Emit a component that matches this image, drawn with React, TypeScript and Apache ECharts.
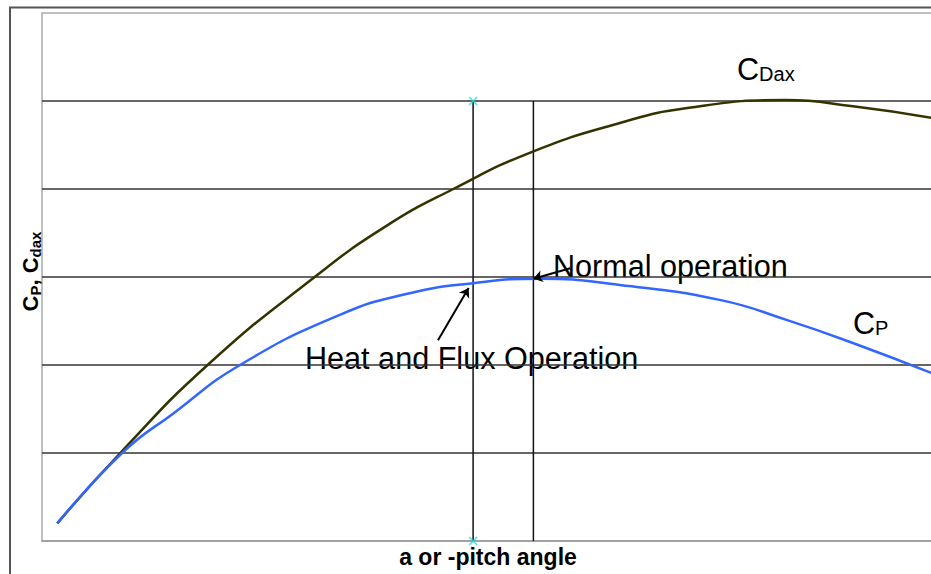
import React, { useEffect, useRef } from "react";
import * as echarts from "echarts";

// C_Dax curve (x = angle units, y = coefficient units)
const cdaxX = [1.7, 8.7, 18.4, 30.3, 38.1, 45.7, 54.4, 64.2, 71.7, 82.6, 90.1, 98.8];
const cdaxY = [0.2, 1.0, 2.0, 3.0, 3.57, 4.0, 4.42, 4.75, 4.92, 5.01, 4.94, 4.81];

// C_P curve
const cpX = [1.7, 8.9, 14.6, 22.0, 33.1, 40.6, 47.9, 55.3, 64.2, 75.3, 82.8, 90.1, 98.8];
const cpY = [0.2, 1.0, 1.45, 2.0, 2.57, 2.81, 2.93, 2.98, 2.91, 2.74, 2.51, 2.25, 1.91];

// operating points
const heatX = 47.9;
const normalX = 54.6;
const markTop = 5;

// annotation arrows [fromX, fromY, toX, toY]
const normalArrow = [58.7, 3.1, 54.6, 2.98];
const heatArrow = [44.0, 2.28, 47.4, 2.875];

const FONT = "'Liberation Sans', Arial, Helvetica, sans-serif";

export default function App() {
  const ref = useRef<HTMLDivElement>(null);
  useEffect(() => {
    const chart = echarts.init(ref.current!, null, { renderer: "svg" });
    const toPairs = (xs: number[], ys: number[]) => xs.map((x, i) => [x, ys[i]]);
    const option = {
      animation: false,
      backgroundColor: "#ffffff",
      grid: {
        left: 42,
        top: 13,
        right: 0,
        bottom: 33,
        show: true,
        borderColor: "#aaaaaa",
        borderWidth: 1.5,
        backgroundColor: "transparent",
      },
      xAxis: {
        type: "value",
        min: 0,
        max: 100,
        axisLine: { show: true, onZero: false, lineStyle: { color: "#999999", width: 1.5 } },
        axisTick: { show: false },
        axisLabel: { show: false },
        splitLine: { show: false },
        name: "a or -pitch angle",
        nameLocation: "middle",
        nameGap: 4,
        nameTextStyle: {
          fontFamily: FONT,
          fontWeight: "bold",
          fontSize: 23,
          color: "#000",
          verticalAlign: "top",
          padding: [0, 8, 0, 0],
        },
      },
      yAxis: {
        type: "value",
        min: 0,
        max: 6,
        interval: 1,
        axisLine: { show: false },
        axisTick: { show: false },
        axisLabel: { show: false },
        splitLine: {
          show: true,
          showMinLine: false,
          showMaxLine: false,
          lineStyle: { color: "#333333", width: 1.5 },
        },
      },
      series: [
        {
          type: "line",
          name: "heat",
          data: [
            [heatX, 0],
            [heatX, markTop],
          ],
          symbol: "none",
          lineStyle: { color: "#111", width: 1.5 },
          silent: true,
          z: 2,
        },
        {
          type: "line",
          name: "normal",
          data: [
            [normalX, 0],
            [normalX, markTop],
          ],
          symbol: "none",
          lineStyle: { color: "#111", width: 1.5 },
          silent: true,
          z: 2,
        },
        {
          type: "line",
          name: "CDax",
          data: toPairs(cdaxX, cdaxY),
          smooth: 0.5,
          symbol: "none",
          lineStyle: { color: "#333300", width: 2.5 },
          silent: true,
          z: 3,
        },
        {
          type: "line",
          name: "CP",
          data: toPairs(cpX, cpY),
          smooth: 0.5,
          symbol: "none",
          lineStyle: { color: "#3366ff", width: 2.5 },
          silent: true,
          z: 3,
          markLine: {
            silent: true,
            symbol: ["none", "arrow"],
            symbolSize: 9,
            label: { show: false },
            lineStyle: { color: "#000", width: 2, type: "solid" },
            data: [
              [
                { coord: [normalArrow[0], normalArrow[1]] },
                { coord: [normalArrow[2], normalArrow[3]] },
              ],
              [
                { coord: [heatArrow[0], heatArrow[1]] },
                { coord: [heatArrow[2], heatArrow[3]] },
              ],
            ],
          },
        },
        {
          type: "scatter",
          name: "marks",
          data: [
            [heatX, markTop],
            [heatX, 0],
          ],
          clip: false,
          symbol: "path://M0,0L10,10M10,0L0,10",
          symbolSize: 8,
          itemStyle: { color: "transparent", borderColor: "#22dddd", borderWidth: 1.5 },
          silent: true,
          z: 5,
        },
      ],
      graphic: [
        {
          type: "rect",
          silent: true,
          z: 0,
          shape: { x: 10, y: 7.5, width: 1000, height: 1000 },
          style: { fill: "none", stroke: "#555555", lineWidth: 2 },
        },
        {
          type: "text",
          x: 30,
          y: 271.5,
          rotation: Math.PI / 2,
          silent: true,
          style: {
            text: "C{s|P}, C{s|dax}",
            fontFamily: FONT,
            fontSize: 22,
            fontWeight: "bold",
            lineHeight: 26,
            fill: "#000",
            align: "center",
            verticalAlign: "middle",
            rich: {
              s: {
                fontFamily: FONT,
                fontSize: 15,
                fontWeight: "bold",
                lineHeight: 4,
                verticalAlign: "bottom",
                fill: "#000",
              },
            },
          },
        },
        {
          type: "text",
          x: 737,
          y: 68.5,
          silent: true,
          style: {
            text: "C{s|Dax}",
            fontFamily: FONT,
            fontSize: 30.6,
            lineHeight: 30,
            fill: "#000",
            align: "left",
            verticalAlign: "middle",
            rich: {
              s: { fontFamily: FONT, fontSize: 20, lineHeight: 17, verticalAlign: "bottom", fill: "#000" },
            },
          },
        },
        {
          type: "text",
          x: 853,
          y: 322.5,
          silent: true,
          style: {
            text: "C{s|P}",
            fontFamily: FONT,
            fontSize: 30.6,
            lineHeight: 30,
            fill: "#000",
            align: "left",
            verticalAlign: "middle",
            rich: {
              s: { fontFamily: FONT, fontSize: 20, lineHeight: 15, verticalAlign: "bottom", fill: "#000" },
            },
          },
        },
        {
          type: "text",
          x: 553,
          y: 265.5,
          silent: true,
          style: {
            text: "Normal operation",
            fontFamily: FONT,
            fontSize: 30.6,
            fill: "#000",
            align: "left",
            verticalAlign: "middle",
          },
        },
        {
          type: "text",
          x: 305,
          y: 357.5,
          silent: true,
          style: {
            text: "Heat and Flux Operation",
            fontFamily: FONT,
            fontSize: 30.6,
            fill: "#000",
            align: "left",
            verticalAlign: "middle",
          },
        },
      ],
    };
    chart.setOption(option as any);
    return () => chart.dispose();
  }, []);
  return (
    <div
      style={{ position: "absolute", left: 0, top: 0, width: 931, height: 574, overflow: "hidden", background: "#fff" }}
    >
      <div ref={ref} style={{ width: 942, height: 574 }} />
    </div>
  );
}
